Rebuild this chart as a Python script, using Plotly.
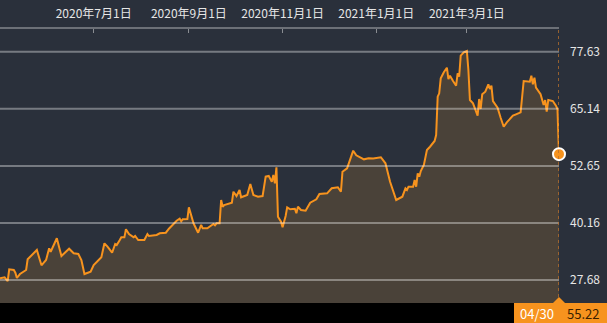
import plotly.graph_objects as go

dates = [
    "2020-05-01", "2020-05-04", "2020-05-06", "2020-05-07", "2020-05-10", "2020-05-11", "2020-05-12",
    "2020-05-14", "2020-05-18", "2020-05-19", "2020-05-25", "2020-05-28", "2020-05-31", "2020-06-02",
    "2020-06-03", "2020-06-05", "2020-06-07", "2020-06-10", "2020-06-15", "2020-06-18", "2020-06-21",
    "2020-06-23", "2020-06-25", "2020-06-29", "2020-07-01", "2020-07-06", "2020-07-08", "2020-07-10",
    "2020-07-13", "2020-07-15", "2020-07-16", "2020-07-18", "2020-07-19", "2020-07-21", "2020-07-22",
    "2020-07-24", "2020-07-27", "2020-07-28", "2020-07-30", "2020-08-03", "2020-08-05", "2020-08-06",
    "2020-08-11", "2020-08-13", "2020-08-17", "2020-08-19", "2020-08-22", "2020-08-24", "2020-08-26",
    "2020-08-27", "2020-08-28", "2020-08-31", "2020-09-01", "2020-09-04", "2020-09-07", "2020-09-09",
    "2020-09-10", "2020-09-13", "2020-09-17", "2020-09-18", "2020-09-19", "2020-09-21", "2020-09-22",
    "2020-09-23", "2020-09-24", "2020-09-29", "2020-09-30", "2020-10-02", "2020-10-04", "2020-10-05",
    "2020-10-09", "2020-10-11", "2020-10-13", "2020-10-16", "2020-10-19", "2020-10-21", "2020-10-23",
    "2020-10-25", "2020-10-26", "2020-10-27", "2020-10-28", "2020-10-29", "2020-10-31", "2020-11-01",
    "2020-11-03", "2020-11-04", "2020-11-06", "2020-11-09", "2020-11-10", "2020-11-11", "2020-11-13",
    "2020-11-16", "2020-11-19", "2020-11-23", "2020-11-25", "2020-11-30", "2020-12-03", "2020-12-07",
    "2020-12-09", "2020-12-10", "2020-12-13", "2020-12-17", "2020-12-19", "2020-12-21", "2020-12-24",
    "2020-12-27", "2020-12-30", "2021-01-04", "2021-01-07", "2021-01-10", "2021-01-12", "2021-01-14",
    "2021-01-18", "2021-01-20", "2021-01-21", "2021-01-22", "2021-01-25", "2021-01-26", "2021-01-27",
    "2021-01-28", "2021-01-29", "2021-01-30", "2021-02-01", "2021-02-03", "2021-02-05", "2021-02-08",
    "2021-02-09", "2021-02-10", "2021-02-11", "2021-02-12", "2021-02-14", "2021-02-16", "2021-02-17",
    "2021-02-18", "2021-02-20", "2021-02-22", "2021-02-23", "2021-02-24", "2021-02-25", "2021-02-27",
    "2021-03-01", "2021-03-02", "2021-03-03", "2021-03-05", "2021-03-08", "2021-03-09", "2021-03-10",
    "2021-03-11", "2021-03-13", "2021-03-15", "2021-03-16", "2021-03-17", "2021-03-18", "2021-03-21",
    "2021-03-23", "2021-03-25", "2021-03-27", "2021-03-31", "2021-04-02", "2021-04-05", "2021-04-07",
    "2021-04-11", "2021-04-12", "2021-04-13", "2021-04-14", "2021-04-15", "2021-04-18", "2021-04-20",
    "2021-04-21", "2021-04-22", "2021-04-23", "2021-04-26", "2021-04-28", "2021-04-29", "2021-04-30",
]

prices = [
    28.05, 28.27, 27.46, 30.02, 29.87, 29.28, 28.12,
    28.99, 29.87, 32.21, 34.25, 30.90, 32.06, 34.62,
    33.87, 35.34, 36.81, 32.93, 34.53, 33.52, 33.37,
    32.06, 28.99, 29.50, 30.96, 32.65, 35.71, 34.97,
    33.65, 35.56, 35.34, 36.43, 37.02, 37.02, 38.78,
    37.75, 37.02, 37.31, 36.43, 36.43, 37.75, 37.31,
    37.53, 37.90, 38.03, 38.91, 39.94, 40.66, 41.10,
    40.53, 40.96, 41.00, 43.59, 40.09, 38.03, 39.72,
    38.99, 38.99, 39.94, 39.65, 40.09, 40.09, 45.19,
    43.72, 44.09, 44.60, 47.00, 46.06, 47.38, 45.78,
    46.28, 48.69, 46.28, 45.91, 46.06, 50.29, 50.44,
    49.19, 50.66, 48.84, 52.34, 41.53, 40.44, 39.21,
    41.69, 43.59, 43.15, 43.28, 42.28, 43.72, 43.00,
    42.85, 44.60, 45.34, 46.50, 46.65, 47.75, 47.97,
    47.00, 51.38, 52.12, 55.98, 54.97, 54.66, 54.09,
    54.31, 54.27, 54.55, 53.22, 49.19, 47.00, 45.19,
    45.91, 47.75, 47.38, 48.10, 48.10, 49.57, 48.10,
    51.03, 50.29, 51.53, 52.85, 56.13, 56.85, 58.10,
    59.41, 67.80, 68.54, 71.82, 73.13, 74.14, 71.67,
    72.39, 71.23, 70.20, 72.92, 72.17, 76.77, 77.51,
    77.80, 73.64, 67.07, 66.35, 63.64, 67.29, 65.10,
    68.32, 68.89, 70.51, 69.48, 70.20, 66.85, 65.39,
    63.20, 61.23, 62.19, 63.64, 63.94, 64.38, 71.23,
    71.08, 72.39, 70.51, 71.95, 69.77, 68.32, 65.98,
    67.07, 64.51, 67.07, 66.85, 65.83, 65.10, 55.22,
]

x_tick_vals = ["2020-07-01", "2020-09-01", "2020-11-01", "2021-01-01", "2021-03-01"]
x_tick_text = ["2020年7月1日", "2020年9月1日", "2020年11月1日", "2021年1月1日", "2021年3月1日"]
y_tick_vals = [27.68, 40.16, 52.65, 65.14, 77.63]
y_tick_text = ["27.68", "40.16", "52.65", "65.14", "77.63"]

BG = "#2a303b"
ORANGE = "#f7931e"
FILL = "#4a4239"
FONT = "Noto Sans CJK JP"

W, H = 607, 323
ML, MR, MT, MB = 0, 48, 29, 20
PW = W - ML - MR
PH = H - MT - MB

fig = go.Figure()
fig.add_trace(go.Scatter(
    x=dates, y=prices, mode="lines",
    line=dict(color=ORANGE, width=2),
    fill="tozeroy", fillcolor=FILL,
    hoverinfo="skip",
))
fig.add_trace(go.Scatter(
    x=[dates[-1]], y=[prices[-1]], mode="markers",
    marker=dict(size=12, color=ORANGE, line=dict(color="white", width=2)),
    cliponaxis=False, hoverinfo="skip",
))

shapes = []
for v in y_tick_vals:
    shapes.append(dict(type="line", xref="paper", x0=0, x1=1, yref="y", y0=v, y1=v,
                       line=dict(color="rgba(255,255,255,0.36)", width=2), layer="above"))
# bottom black band
shapes.append(dict(type="rect", xref="paper", x0=0, x1=W / PW, yref="paper", y0=-MB / PH, y1=0,
                   fillcolor="#000000", line=dict(width=0), layer="above"))
# dotted marker line
shapes.append(dict(type="line", xref="x", x0=dates[-1], x1=dates[-1], yref="paper", y0=0, y1=1,
                   line=dict(color="#b8702c", width=1.5, dash="dot"), layer="above"))
# orange label box
box_l = 514
shapes.append(dict(type="rect", xref="paper", x0=box_l / PW, x1=W / PW, yref="paper", y0=-MB / PH, y1=0,
                   fillcolor=ORANGE, line=dict(width=0), layer="above"))
tx, th = 6 / PW, 6 / PH
shapes.append(dict(type="path", xref="paper", yref="paper",
                   path=f"M {1 - tx},0 L 1,{th} L {1 + tx},0 Z",
                   fillcolor=ORANGE, line=dict(width=0), layer="above"))

last_date = dates[-1]
date_label = last_date[5:7] + "/" + last_date[8:10]
annotations = [
    dict(xref="paper", yref="paper", x=536.5 / PW, y=-10 / PH, text=date_label, showarrow=False,
         font=dict(family=FONT, size=13, color="#ffffff"), xanchor="center", yanchor="middle"),
    dict(xref="paper", yref="paper", x=582.5 / PW, y=-10 / PH, text=f"{prices[-1]:.2f}", showarrow=False,
         font=dict(family=FONT, size=13, color="#3a1f00"), xanchor="center", yanchor="middle"),
]

fig.update_layout(
    width=W, height=H,
    margin=dict(l=ML, r=MR, t=MT, b=MB, pad=0),
    paper_bgcolor=BG, plot_bgcolor=BG,
    showlegend=False,
    font=dict(family=FONT, size=12, color="#e6e6e6"),
    shapes=shapes, annotations=annotations,
    xaxis=dict(
        type="date", range=["2020-05-01", "2021-04-30"], side="top",
        showgrid=False, zeroline=False,
        showline=True, linecolor="#6c7077", linewidth=2,
        ticks="inside", ticklen=4, tickwidth=1, tickcolor="#8a8d92",
        tickvals=x_tick_vals, ticktext=x_tick_text,
        tickfont=dict(family=FONT, size=12, color="#e6e6e6"),
        ticklabelstandoff=4,
    ),
    yaxis=dict(
        range=[22.65, 82.61], side="right",
        showgrid=False, zeroline=False, showline=False,
        tickvals=y_tick_vals, ticktext=y_tick_text,
        tickfont=dict(family=FONT, size=12, color="#e6e6e6"),
        ticks="", ticklabelstandoff=10,
    ),
)

fig.write_html("out.html")
